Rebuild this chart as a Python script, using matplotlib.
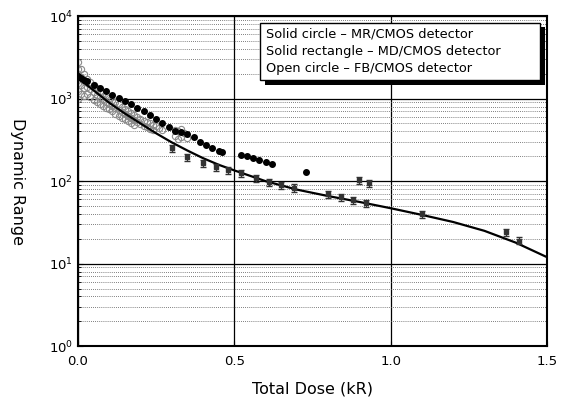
import numpy as np
import matplotlib
matplotlib.use("Agg")
import matplotlib.pyplot as plt
from matplotlib.patches import Rectangle

# fitted curve
fit_dose = [0.0, 0.05, 0.1, 0.15, 0.2, 0.25, 0.3, 0.35, 0.4, 0.45, 0.5,
            0.6, 0.7, 0.8, 0.9, 1.0, 1.1, 1.2, 1.3, 1.4, 1.5]
fit_range = [1780, 1260, 890, 660, 500, 380, 295, 235, 190, 158, 135,
             100, 79, 66, 56, 47, 39, 32, 25, 18, 12]

# solid circle - MR/CMOS
mr_dose = [0.0, 0.01, 0.02, 0.03, 0.05, 0.07, 0.09, 0.11, 0.13, 0.15, 0.17,
           0.19, 0.21, 0.23, 0.25, 0.27, 0.29, 0.31, 0.33, 0.35, 0.37, 0.39,
           0.41, 0.43, 0.45, 0.46, 0.52, 0.54, 0.56, 0.58, 0.60, 0.62, 0.73]
mr_range = [1900, 1800, 1700, 1620, 1480, 1350, 1230, 1120, 1020, 930, 850,
            770, 700, 640, 560, 500, 450, 410, 390, 370, 340, 300,
            275, 255, 235, 225, 210, 200, 190, 180, 170, 162, 130]

# solid rectangle - MD/CMOS
md_dose = [0.30, 0.35, 0.40, 0.44, 0.48, 0.52, 0.57, 0.61, 0.65, 0.69,
           0.80, 0.84, 0.88, 0.92, 0.90, 0.93, 1.10, 1.37, 1.41]
md_range = [250, 195, 166, 148, 136, 125, 109, 97, 89, 83,
            69, 64, 59, 54, 103, 95, 40, 24, 19]

# open circle - FB/CMOS
fb_dose = [0.0, 0.0, 0.0, 0.0, 0.0, 0.0,
           0.01, 0.01, 0.01, 0.01, 0.02, 0.02, 0.02, 0.02,
           0.03, 0.03, 0.03, 0.04, 0.04, 0.04, 0.05, 0.05, 0.05,
           0.06, 0.06, 0.06, 0.07, 0.07, 0.07, 0.08, 0.08, 0.08,
           0.09, 0.09, 0.09, 0.10, 0.10, 0.10, 0.11, 0.11, 0.11,
           0.12, 0.12, 0.12, 0.13, 0.13, 0.13, 0.14, 0.14, 0.14,
           0.15, 0.15, 0.15, 0.16, 0.16, 0.16, 0.17, 0.17, 0.17,
           0.18, 0.18, 0.18, 0.19, 0.19, 0.20, 0.20, 0.21, 0.21,
           0.22, 0.22, 0.23, 0.23, 0.24, 0.24, 0.25, 0.26, 0.27,
           0.31, 0.31, 0.32, 0.32, 0.33, 0.33, 0.34, 0.35]
fb_range = [2800, 2300, 1900, 1550, 1250, 1000,
            2300, 1850, 1450, 1150, 2000, 1650, 1350, 1080,
            1750, 1400, 1150, 1600, 1300, 1050, 1450, 1200, 970,
            1350, 1120, 920, 1250, 1040, 870, 1170, 980, 820,
            1100, 920, 780, 1030, 870, 740, 960, 820, 700,
            900, 770, 660, 850, 730, 620, 800, 690, 590,
            750, 650, 560, 710, 610, 530, 670, 580, 500,
            630, 550, 480, 600, 520, 570, 490, 540, 470,
            520, 450, 500, 430, 480, 420, 460, 440, 420,
            420, 350, 400, 320, 430, 340, 380, 330]

fig = plt.figure(figsize=(5.65, 4.03), dpi=100)
ax = fig.add_axes([0.138, 0.141, 0.830, 0.819])

ax.set_yscale("log")
ax.set_xlim(0, 1.5)
ax.set_ylim(1, 1e4)

# grid: solid major, dotted minor (horizontal only)
ax.grid(True, which="major", color="black", linewidth=0.9)
ax.yaxis.grid(True, which="minor", color="#555555", linestyle=(0, (1, 1.5)), linewidth=0.6)
ax.set_axisbelow(True)

ax.plot(fb_dose, fb_range, linestyle="none", marker="o", markersize=4.5,
        markerfacecolor="none", markeredgecolor="#8a8a8a", markeredgewidth=0.8)
ax.plot(fit_dose, fit_range, color="black", linewidth=1.6)
ax.plot(mr_dose, mr_range, linestyle="none", marker="o", markersize=4,
        color="black")
ax.errorbar(md_dose, md_range, yerr=np.array(md_range) * 0.1, fmt="s",
            markersize=3.5, color="#333333", ecolor="#333333",
            elinewidth=0.8, capsize=2.5)

ax.set_xticks([0.0, 0.5, 1.0, 1.5])
ax.set_xticklabels(["0.0", "0.5", "1.0", "1.5"])
ax.tick_params(axis="both", which="both", direction="in", labelsize=9.5)
ax.tick_params(axis="x", pad=6)
for s in ax.spines.values():
    s.set_linewidth(1.5)

ax.set_xlabel("Total Dose (kR)", fontsize=11.5, labelpad=10)
ax.set_ylabel("Dynamic Range", fontsize=11.5, rotation=270, labelpad=28, va="bottom")

# legend text box with drop shadow
x0, y0, w, h = 0.389, 0.805, 0.597, 0.175
ax.add_patch(Rectangle((x0 + 0.009, y0 - 0.014), w, h, transform=ax.transAxes,
                       facecolor="black", edgecolor="none", zorder=5))
ax.add_patch(Rectangle((x0, y0), w, h, transform=ax.transAxes,
                       facecolor="white", edgecolor="black", linewidth=1.0, zorder=6))
lines = ["Solid circle \u2013 MR/CMOS detector",
         "Solid rectangle \u2013 MD/CMOS detector",
         "Open circle \u2013 FB/CMOS detector"]
for i, t in enumerate(lines):
    ax.text(x0 + 0.012, y0 + h - 0.035 - i * 0.052, t, transform=ax.transAxes,
            fontsize=9.3, va="center", ha="left", zorder=7)

fig.savefig("out.png", dpi=100)
